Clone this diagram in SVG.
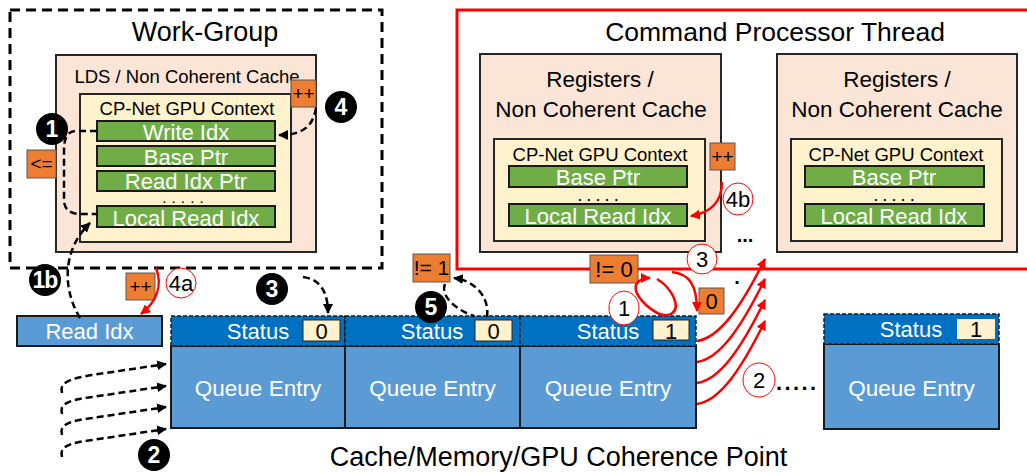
<svg xmlns="http://www.w3.org/2000/svg" width="1027" height="472" viewBox="0 0 1027 472">
<defs>
<style>
text{font-family:"Liberation Sans",Arial,sans-serif;}
.peach{fill:#FBE5D6;stroke:#262626;stroke-width:2;}
.cream{fill:#FFF2CC;stroke:#262626;stroke-width:2;}
.green{fill:#70AD47;stroke:#1a1a1a;stroke-width:2;}
.orange{fill:#ED7D31;stroke:#595959;stroke-width:1;}
.body{fill:#5B9BD5;stroke:#1a1a1a;stroke-width:2;}
.stat{fill:#0070C0;stroke:#1a1a1a;stroke-width:1.5;stroke-dasharray:4 2;}
.val{fill:#FFF2CC;stroke:#262626;stroke-width:1;}
.wt{fill:#fff;text-anchor:middle;}
.bk{fill:#000;text-anchor:middle;}
.dots{fill:#000;font-size:13px;font-weight:bold;}
.bcirc{fill:#000;}
.rcirc{fill:#fff;stroke:#FF0000;stroke-width:1;}
.num{fill:#fff;font-size:23px;font-weight:bold;text-anchor:middle;}
.dash{fill:none;stroke:#000;stroke-width:2.5;stroke-dasharray:7 4;}
.red{fill:none;stroke:#FF0000;stroke-width:2.5;}
</style>
<marker id="ab" viewBox="0 0 10 10" refX="9" refY="5" markerWidth="4" markerHeight="4" orient="auto"><path d="M0,0 L10,5 L0,10 z" fill="#000"/></marker>
<marker id="ar" viewBox="0 0 10 10" refX="9" refY="5" markerWidth="4" markerHeight="4" orient="auto"><path d="M0,0 L10,5 L0,10 z" fill="#FF0000"/></marker>
</defs>
<rect width="1027" height="472" fill="#fff"/>

<!-- Work-Group -->
<g id="work-group">
<rect x="10" y="10" width="372" height="258" fill="none" stroke="#000" stroke-width="3" stroke-dasharray="10 6"/>
<text x="205" y="41" class="bk" font-size="27">Work-Group</text>
</g>
<g id="lds">
<rect x="56" y="55" width="260" height="197" class="peach"/>
<text x="187" y="83" class="bk" font-size="18.5">LDS / Non Coherent Cache</text>
</g>
<g id="wg-context">
<rect x="80" y="94" width="211" height="148" class="cream"/>
<text x="187" y="115" class="bk" font-size="18.5">CP-Net GPU Context</text>
</g>
<g id="wg-write-idx"><rect x="97" y="121" width="178" height="20" class="green"/><text x="186" y="140" class="wt" font-size="22">Write Idx</text></g>
<g id="wg-base-ptr"><rect x="97" y="146" width="178" height="20" class="green"/><text x="186" y="165" class="wt" font-size="22">Base Ptr</text></g>
<g id="wg-read-idx-ptr"><rect x="97" y="171" width="178" height="20" class="green"/><text x="186" y="189" class="wt" font-size="22">Read Idx Ptr</text></g>
<text x="163" y="203" class="dots" font-size="10" textLength="40" lengthAdjust="spacing" style="font-size:10px">.....</text>
<g id="wg-local-read-idx"><rect x="97" y="206" width="178" height="21" class="green"/><text x="186" y="225.5" class="wt" font-size="22">Local Read Idx</text></g>
<g id="wg-inc"><rect x="291" y="80" width="25" height="27" class="orange"/><text x="303.5" y="100" class="bk" font-size="19">++</text></g>
<g id="wg-le"><rect x="27" y="150" width="29" height="28" class="orange"/><text x="41.5" y="170" class="bk" font-size="19">&lt;=</text></g>

<!-- Command Processor Thread -->
<g id="cp-thread">
<rect x="457" y="10" width="580" height="259" fill="none" stroke="#FF0000" stroke-width="3"/>
<text x="775" y="41" class="bk" font-size="26.5">Command Processor Thread</text>
</g>
<g id="regs1">
<rect x="480" y="54" width="241" height="198" class="peach"/>
<text x="600" y="87" class="bk" font-size="22.5">Registers /</text>
<text x="601" y="117" class="bk" font-size="22.5">Non Coherent Cache</text>
</g>
<g id="cp-context1">
<rect x="494" y="139" width="211" height="102" class="cream"/>
<text x="600" y="161" class="bk" font-size="18.5">CP-Net GPU Context</text>
<rect x="509" y="166" width="178" height="21" class="green"/><text x="598" y="185" class="wt" font-size="22">Base Ptr</text>
<text x="578" y="201" class="dots" textLength="40" lengthAdjust="spacing">.....</text>
<rect x="509" y="204" width="178" height="22" class="green"/><text x="598" y="224" class="wt" font-size="22">Local Read Idx</text>
</g>
<g id="cp-inc"><rect x="710" y="143" width="25" height="27" class="orange"/><text x="722.5" y="163" class="bk" font-size="19">++</text></g>
<g id="regs2">
<rect x="777" y="54" width="240" height="198" class="peach"/>
<text x="897" y="87" class="bk" font-size="22.5">Registers /</text>
<text x="897" y="117" class="bk" font-size="22.5">Non Coherent Cache</text>
</g>
<g id="cp-context2">
<rect x="791" y="139" width="211" height="102" class="cream"/>
<text x="896" y="161" class="bk" font-size="18.5">CP-Net GPU Context</text>
<rect x="805" y="166" width="179" height="21" class="green"/><text x="894" y="185" class="wt" font-size="22">Base Ptr</text>
<text x="874" y="201" class="dots" textLength="40" lengthAdjust="spacing">.....</text>
<rect x="805" y="204" width="179" height="22" class="green"/><text x="894" y="224" class="wt" font-size="22">Local Read Idx</text>
</g>
<text x="745" y="242" class="bk" font-size="20" font-weight="bold">...</text>
<text x="737" y="284" class="bk" font-size="20" font-weight="bold">.</text>

<!-- Read Idx -->
<g id="read-idx"><rect x="17" y="316" width="145" height="30" class="body" stroke-width="2.5"/><text x="89.5" y="339" class="wt" font-size="22">Read Idx</text></g>
<g id="read-inc"><rect x="126" y="273" width="29" height="27" class="orange"/><text x="140.5" y="293" class="bk" font-size="19">++</text></g>

<!-- Queue entries -->
<g id="entry1">
<rect x="171" y="346" width="174" height="82" class="body"/>
<rect x="171" y="316" width="174" height="30" class="stat"/>
<text x="258" y="339" class="wt" font-size="22">Status</text>
<rect x="303" y="320" width="37" height="21" class="val"/><text x="321.5" y="339" class="bk" font-size="22">0</text>
<text x="258" y="396" class="wt" font-size="22.5">Queue Entry</text>
</g>
<g id="entry2">
<rect x="345" y="346" width="175" height="82" class="body"/>
<rect x="345" y="316" width="175" height="30" class="stat"/>
<text x="432" y="339" class="wt" font-size="22">Status</text>
<rect x="475" y="320" width="37" height="21" class="val"/><text x="493.5" y="339" class="bk" font-size="22">0</text>
<text x="432.5" y="396" class="wt" font-size="22.5">Queue Entry</text>
</g>
<g id="entry3">
<rect x="520" y="346" width="176" height="82" class="body"/>
<rect x="520" y="316" width="176" height="30" class="stat"/>
<text x="608" y="339" class="wt" font-size="22">Status</text>
<rect x="653" y="320" width="36" height="20" class="val"/><text x="671" y="339" class="bk" font-size="22">1</text>
<text x="608" y="396" class="wt" font-size="22.5">Queue Entry</text>
</g>
<g id="entry4">
<rect x="824" y="344" width="175" height="85" class="body"/>
<rect x="824" y="314" width="175" height="30" class="stat"/>
<text x="911" y="337" class="wt" font-size="22">Status</text>
<rect x="957" y="319" width="38" height="20" fill="#FFF2CC"/><text x="976" y="337" class="bk" font-size="22">1</text>
<text x="911.5" y="396" class="wt" font-size="22.5">Queue Entry</text>
</g>
<text x="776" y="390" font-size="22" font-weight="bold" textLength="40" lengthAdjust="spacing">.....</text>

<g id="caption"><text x="558.5" y="466" class="bk" font-size="27">Cache/Memory/GPU Coherence Point</text></g>

<!-- Orange condition boxes -->
<g id="ne1"><rect x="413" y="254" width="37" height="28" class="orange"/><text x="431.5" y="275" class="bk" font-size="21">!= 1</text></g>
<g id="ne0"><rect x="590" y="255" width="48" height="28" class="orange"/><text x="614" y="277" class="bk" font-size="22">!= 0</text></g>
<g id="zero"><rect x="699" y="288" width="25" height="26" class="orange"/><text x="711.5" y="309" class="bk" font-size="22">0</text></g>

<!-- Connectors -->
<g id="connectors">
<path class="dash" d="M97,131 L76,131 C67,131 64,139 64,150 L64,200 C64,209 70,214 80,214 L97,214"/>
<path class="dash" d="M316,108 C313,127 302,135 279,135" marker-end="url(#ab)"/>
<path class="dash" d="M80,318 C64,292 60,252 90,223" marker-end="url(#ab)"/>
<path class="dash" d="M303,277 C320,279 328,292 328,313" marker-end="url(#ab)"/>
<path class="dash" d="M487,317 C490,296 473,280 454,278" marker-end="url(#ab)"/>
<path class="dash" d="M445,284 C440,296 456,310 474,316"/>
<path class="dash" d="M62,393 C59,383 68,379 92,375 L166,364" marker-end="url(#ab)"/>
<path class="dash" d="M62,414 C59,404 68,400 92,397 L166,386" marker-end="url(#ab)"/>
<path class="dash" d="M62,435 C59,425 68,421 92,418 L166,407" marker-end="url(#ab)"/>
<path class="dash" d="M62,457 C59,447 68,443 92,440 L166,429" marker-end="url(#ab)"/>
<path class="red" d="M156,268 C163,286 156,302 141,314" marker-end="url(#ar)"/>
<path class="red" d="M722,182 C722,202 710,213 691,216" marker-end="url(#ar)"/>
<path class="red" d="M672,272 C690,274 697,286 697,311" marker-end="url(#ar)"/>
<path class="red" d="M657,279 C672,288 682,308 671,314 C660,320 640,302 636,291 C634,283 640,278 650,278" marker-end="url(#ar)"/>
<path class="red" d="M697,341 C720,338 742,305 765,259" marker-end="url(#ar)"/>
<path class="red" d="M697,362 C720,359 742,326 765,279" marker-end="url(#ar)"/>
<path class="red" d="M697,383 C720,380 742,347 765,300" marker-end="url(#ar)"/>
<path class="red" d="M697,404 C720,401 742,368 765,321" marker-end="url(#ar)"/>
</g>

<!-- Step markers -->
<g id="step1"><circle cx="52" cy="129" r="16" class="bcirc"/><text x="52" y="137" class="num">1</text></g>
<g id="step4"><circle cx="341" cy="107" r="16" class="bcirc"/><text x="341" y="115" class="num">4</text></g>
<g id="step1b"><circle cx="45" cy="280" r="16" class="bcirc"/><text x="45" y="288" class="num" font-size="21" letter-spacing="-1">1b</text></g>
<g id="step3"><circle cx="272" cy="289" r="16" class="bcirc"/><text x="272" y="297" class="num">3</text></g>
<g id="step5"><circle cx="431" cy="307" r="16" class="bcirc"/><text x="431" y="314.5" class="num">5</text></g>
<g id="step2"><circle cx="154" cy="455" r="16" class="bcirc"/><text x="154" y="463" class="num">2</text></g>
<g id="step4a"><ellipse cx="181" cy="283" rx="15" ry="15" class="rcirc"/><text x="181" y="291" class="bk" font-size="22">4a</text></g>
<g id="step4b"><ellipse cx="738" cy="199" rx="15" ry="16" class="rcirc"/><text x="738" y="207" class="bk" font-size="22">4b</text></g>
<g id="stepr3"><ellipse cx="702" cy="259" rx="15" ry="15" class="rcirc"/><text x="702" y="267" class="bk" font-size="22">3</text></g>
<g id="stepr1"><ellipse cx="624" cy="308" rx="15" ry="17" class="rcirc"/><text x="624" y="316" class="bk" font-size="22">1</text></g>
<g id="stepr2"><ellipse cx="759" cy="380" rx="16" ry="17" class="rcirc"/><text x="759" y="388" class="bk" font-size="22">2</text></g>
</svg>
